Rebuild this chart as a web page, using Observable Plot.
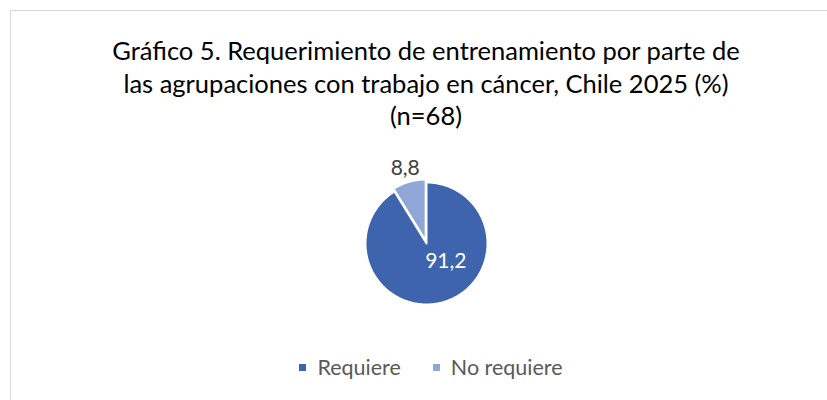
<!DOCTYPE html>
<html>
<head>
<meta charset="utf-8">
<script src="https://cdn.jsdelivr.net/npm/d3@7"></script>
<script src="https://cdn.jsdelivr.net/npm/@observablehq/plot@0.6"></script>
<style>
  html, body { margin: 0; padding: 0; background: #fff; }
  #wrap { position: relative; width: 827px; height: 400px; overflow: hidden; font-family: Lato, "Open Sans", sans-serif; }
  #frame { position: absolute; left: 10px; top: 10px; width: 900px; height: 500px; border: 1.5px solid #d9d9d9; box-sizing: border-box; }
  #title { position: absolute; left: 0; top: 34px; width: 852px; text-align: center; font-size: 25.5px; line-height: 32.5px; color: #000; }
  #chart { position: absolute; left: 0; top: 143px; }
  #legend { position: absolute; left: 0; top: 354px; width: 862px; text-align: center; font-size: 21.5px; color: #595959; white-space: nowrap; }
  #legend span.item { display: inline-block; margin: 0 16px; }
  #legend span.sw { display: inline-block; width: 7px; height: 7px; margin-right: 11px; vertical-align: 4px; }
</style>
</head>
<body>
<div id="wrap">
  <div id="frame"></div>
  <div id="title"></div>
  <div id="chart"></div>
  <div id="legend"></div>
</div>
<script>
const titleLines = ["Gráfico 5. Requerimiento de entrenamiento por parte de", "las agrupaciones con trabajo en cáncer, Chile 2025 (%)", "(n=68)"];
const categories = ["Requiere", "No requiere"];
const values = [91.2, 8.8];
const valueLabels = ["91,2", "8,8"];
const colors = ["#3e64ad", "#8fa6d6"];

document.getElementById("title").innerHTML = titleLines.map(t => `<div>${t}</div>`).join("");
document.getElementById("legend").innerHTML = categories.map((c, i) =>
  `<span class="item"><span class="sw" style="background:${colors[i]}"></span>${c}</span>`).join("");

// pie geometry in unit coordinates (angles clockwise from 12 o'clock)
const pie = d3.pie().sort(null).value(d => d.value);
const slices = pie(categories.map((c, i) => ({cat: c, value: values[i], label: valueLabels[i]})));
const poly = [];
const labels = [];
slices.forEach((s, i) => {
  const small = s.data.value < 20;
  const mid = (s.startAngle + s.endAngle) / 2;
  const ex = small ? 0.05 : 0;
  const ox = ex * Math.sin(mid), oy = ex * Math.cos(mid);
  poly.push({cat: s.data.cat, x: ox, y: oy});
  const n = Math.max(4, Math.ceil((s.endAngle - s.startAngle) / 0.02));
  for (let k = 0; k <= n; k++) {
    const a = s.startAngle + (s.endAngle - s.startAngle) * k / n;
    poly.push({cat: s.data.cat, x: ox + Math.sin(a), y: oy + Math.cos(a)});
  }
  const r = small ? 1.28 : 0.5;
  labels.push({cat: s.data.cat, label: s.data.label, inside: !small, x: r * Math.sin(mid), y: r * Math.cos(mid)});
});

const chart = Plot.plot({
  width: 827,
  height: 200,
  marginLeft: 365,
  marginRight: 340,
  marginTop: 39,
  marginBottom: 39,
  x: {domain: [-1, 1], axis: null},
  y: {domain: [-1, 1], axis: null},
  color: {type: "ordinal", domain: categories, range: colors},
  style: {background: "transparent", overflow: "visible"},
  marks: [
    Plot.line(poly, {x: "x", y: "y", z: "cat", fill: "cat", stroke: "white", strokeWidth: 2, curve: "linear-closed"}),
    Plot.text(labels.filter(d => d.inside), {x: "x", y: "y", text: "label", fill: "white", fontSize: 21, dx: 11, dy: -12, fontFamily: "Lato, sans-serif"}),
    Plot.text(labels.filter(d => !d.inside), {x: "x", y: "y", text: "label", fill: "#404040", fontSize: 21, fontFamily: "Lato, sans-serif"})
  ]
});
document.getElementById("chart").appendChild(chart);
</script>
</body>
</html>
